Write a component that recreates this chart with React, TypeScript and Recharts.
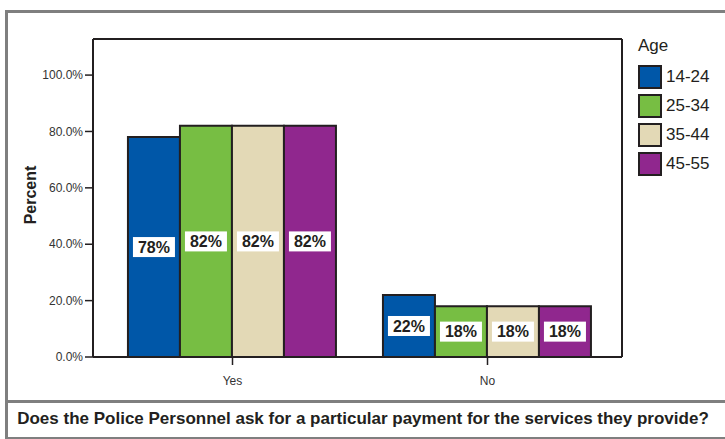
import { BarChart, Bar, XAxis, YAxis, LabelList } from 'recharts'

// Encuesta: ¿la policía pide un pago? — % por grupo de edad
const categories = ['Yes', 'No']
const ageGroups = ['14-24', '25-34', '35-44', '45-55']
const age1424 = [78, 22]
const age2534 = [82, 18]
const age3544 = [82, 18]
const age4555 = [82, 18]
const yTicks = [0, 20, 40, 60, 80, 100]

const COLORS = ['#0057A8', '#77BE43', '#E3D9B6', '#90278E']
const SERIES_KEYS = ['a1424', 'a2534', 'a3544', 'a4555']
const FONT = '"Liberation Sans", Arial, sans-serif'
const INK = '#231F20'

const data = categories.map((cat, i) => ({
  cat,
  a1424: age1424[i],
  a2534: age2534[i],
  a3544: age3544[i],
  a4555: age4555[i],
}))

/** Etiqueta en caja blanca, centrada en la barra. */
function BoxLabel(props: any) {
  const { x, y, width, height, value } = props
  const cx = x + width / 2
  const cy = y + height / 2
  return (
    <g>
      <rect x={cx - 21} y={cy - 10} width={42} height={20} fill="#fff" />
      <text x={cx} y={cy} dy="0.36em" textAnchor="middle" fontFamily={FONT} fontWeight={700} fontSize={16} fill={INK}>
        {value}%
      </text>
    </g>
  )
}

function AgeLegend() {
  return (
    <div style={{ position: 'absolute', left: 638, top: 36, fontFamily: FONT, color: INK, fontSize: 17 }}>
      <div style={{ lineHeight: '20px', marginBottom: 6 }}>Age</div>
      {ageGroups.map((g, i) => (
        <div key={g} style={{ display: 'flex', alignItems: 'center', height: 29 }}>
          <span
            style={{
              width: 20,
              height: 20,
              background: COLORS[i],
              border: `2px solid ${INK}`,
              display: 'inline-block',
              marginRight: 4,
            }}
          />
          <span>{g}</span>
        </div>
      ))}
    </div>
  )
}

function PercentLabel(props: any) {
  const vb = props.viewBox
  const x = 30
  const y = vb.y + vb.height / 2 - 3
  return (
    <text x={x} y={y} transform={`rotate(-90 ${x} ${y})`} textAnchor="middle" dy="0.36em" fontFamily={FONT} fontWeight={700} fontSize={16} fill={INK}>
      Percent
    </text>
  )
}

export default function App() {
  return (
    <div style={{ position: 'absolute', left: 0, top: 0, width: 725, height: 439, background: '#fff', overflow: 'hidden' }}>
      {/* marco gris exterior */}
      <div style={{ position: 'absolute', left: 5, top: 10, width: 740, height: 424, border: '3px solid #7F7F7F' }} />
      <div style={{ position: 'absolute', left: 5, top: 400, width: 740, height: 3, background: '#7F7F7F' }} />
      <div
        style={{
          position: 'absolute',
          left: 8,
          width: 710,
          top: 403,
          height: 31,
          display: 'flex',
          alignItems: 'center',
          justifyContent: 'center',
          fontFamily: FONT,
          fontWeight: 700,
          fontSize: 17,
          color: INK,
          whiteSpace: 'nowrap',
        }}
      >
        Does the Police Personnel ask for a particular payment for the services they provide?
      </div>

      <div style={{ position: 'absolute', left: 0, top: 0 }}>
        <BarChart
          width={725}
          height={439}
          data={data}
          margin={{ top: 38, right: 102, bottom: 52, left: 20 }}
          barCategoryGap="9%"
          barGap={0}
        >
          <XAxis
            dataKey="cat"
            padding={{ left: 12, right: 7 }}
            height={30}
            tickSize={8}
            tickMargin={11}
            tick={{ fontSize: 12, fill: '#333', fontFamily: FONT }}
            axisLine={{ stroke: INK, strokeWidth: 2 }}
            tickLine={{ stroke: INK, strokeWidth: 1.5 }}
          />
          <XAxis
            xAxisId="top"
            dataKey="cat"
            orientation="top"
            height={1}
            padding={{ left: 12, right: 7 }}
            tick={false}
            tickLine={false}
            axisLine={{ stroke: INK, strokeWidth: 2 }}
          />
          <YAxis
            width={73}
            domain={[0, 112.8]}
            ticks={yTicks}
            allowDataOverflow
            tickFormatter={(v: number) => `${v.toFixed(1)}%`}
            tickSize={8}
            tickMargin={2}
            tick={{ fontSize: 12, fill: '#333', fontFamily: FONT }}
            axisLine={{ stroke: INK, strokeWidth: 2 }}
            tickLine={{ stroke: INK, strokeWidth: 1.5 }}
            label={<PercentLabel />}
          />
          <YAxis
            yAxisId="right"
            orientation="right"
            width={1}
            domain={[0, 112.8]}
            tick={false}
            tickLine={false}
            axisLine={{ stroke: INK, strokeWidth: 2 }}
          />
          {SERIES_KEYS.map((k, i) => (
            <Bar key={k} dataKey={k} name={ageGroups[i]} fill={COLORS[i]} stroke={INK} strokeWidth={2} isAnimationActive={false}>
              <LabelList dataKey={k} content={<BoxLabel />} />
            </Bar>
          ))}
        </BarChart>
      </div>
      <AgeLegend />
    </div>
  )
}
